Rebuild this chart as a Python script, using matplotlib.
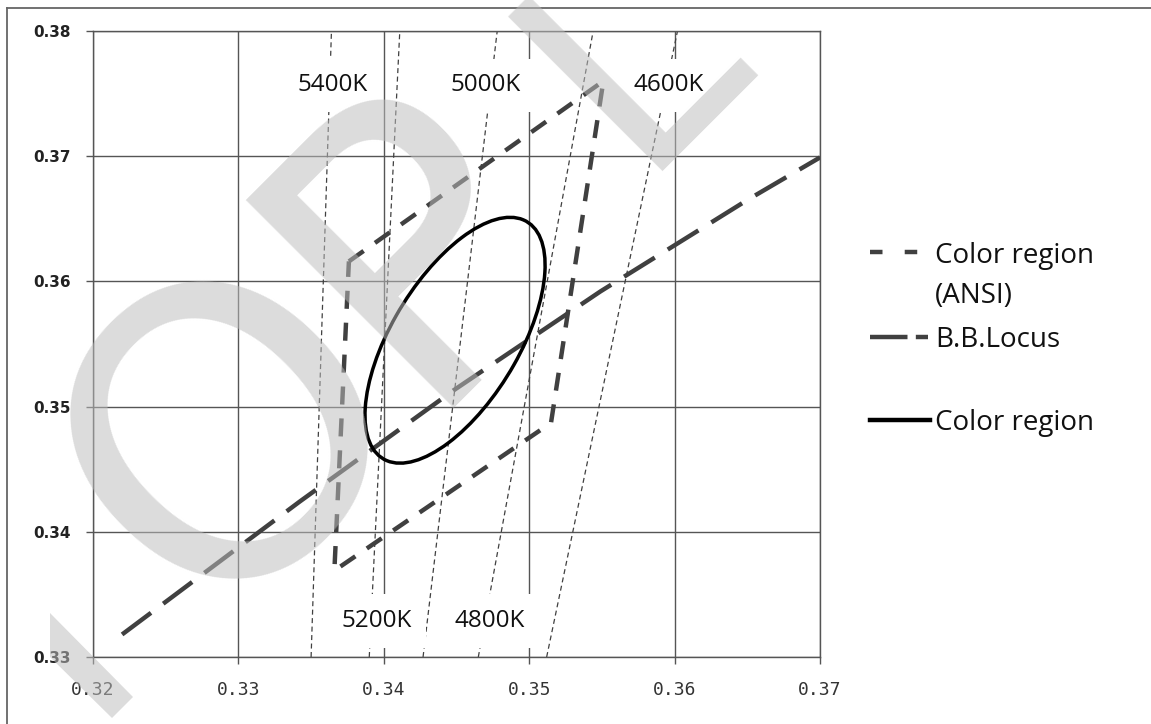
import numpy as np
import matplotlib
matplotlib.use("Agg")
import matplotlib.pyplot as plt
from matplotlib.patches import Ellipse, Polygon
from matplotlib.lines import Line2D

plt.rcParams["lines.scale_dashes"] = False

# axes
x_ticks = [0.32, 0.33, 0.34, 0.35, 0.36, 0.37]
y_ticks = [0.33, 0.34, 0.35, 0.36, 0.37, 0.38]

# CCT isotherms: x at y=0.33 and at y=0.38
iso_names = ["5400K", "5200K", "5000K", "4800K", "4600K"]
iso_y = [0.33, 0.38]
iso_x_bottom = [0.3350, 0.3390, 0.3427, 0.3465, 0.3512]
iso_x_top = [0.3364, 0.3411, 0.3478, 0.3544, 0.3602]
iso_label_x = [0.3365, 0.3395, 0.3470, 0.3473, 0.3596]
iso_label_y = [0.3752, 0.3324, 0.3752, 0.3324, 0.3752]

# ANSI quadrangle (5000K)
ansi_x = [0.3376, 0.3551, 0.3515, 0.3366, 0.3376]
ansi_y = [0.3616, 0.3760, 0.3487, 0.3369, 0.3616]

# black body locus
bb_x = [0.3220, 0.3342, 0.3448, 0.3549, 0.3650, 0.3700]
bb_y = [0.3318, 0.3424, 0.3513, 0.3592, 0.3665, 0.3699]

# colour region ellipse
ell_center = (0.3449, 0.3553)
ell_a = 0.0107
ell_b = 0.0045
ell_angle = 64.0

W, H = 1151, 724
fig = plt.figure(figsize=(W / 100, H / 100), dpi=100)
fig.patch.set_facecolor("white")
ax = fig.add_axes([93 / W, 1 - 657 / H, 727 / W, 626 / H])

grid_c = "#555555"
line_c = "#404040"

ax.set_xlim(x_ticks[0], x_ticks[-1])
ax.set_ylim(y_ticks[0], y_ticks[-1])
ax.set_xticks(x_ticks)
ax.set_yticks(y_ticks)
ax.set_xticklabels([f"{v:.2f}" for v in x_ticks], family="DejaVu Sans Mono",
                   fontsize=13, color="#333333")
ax.set_yticklabels([f"{v:.2f}" for v in y_ticks], family="DejaVu Sans",
                   fontweight="bold", fontsize=11, color="#222222")
ax.tick_params(axis="x", direction="out", length=5, width=1, color=grid_c, pad=12)
ax.tick_params(axis="y", direction="out", length=5, width=1, color=grid_c, pad=11)
ax.grid(True, color=grid_c, linewidth=1.0, zorder=0)
for s in ax.spines.values():
    s.set_color(grid_c)
    s.set_linewidth(1.0)

for xb, xt in zip(iso_x_bottom, iso_x_top):
    ax.plot([xb, xt], iso_y, color=line_c, linewidth=0.9, dashes=(3.6, 2.5), zorder=2)

for name, lx, ly in zip(iso_names, iso_label_x, iso_label_y):
    ax.text(lx, ly, name, ha="center", va="baseline", fontsize=17.5,
            family="Open Sans", color="#111111", zorder=3,
            bbox=dict(boxstyle="square,pad=0.6", fc="white", ec="none"))

ax.plot(ansi_x, ansi_y, color=line_c, linewidth=3.2, dashes=(13, 10), zorder=4)
ax.plot(bb_x, bb_y, color=line_c, linewidth=3.2, dashes=(26, 11), zorder=4)
ax.add_patch(Ellipse(ell_center, 2 * ell_a, 2 * ell_b, angle=ell_angle,
                     fill=False, edgecolor="black", linewidth=2.5, zorder=5))

# legend drawn by hand
def fx(px):
    return px / W

def fy(py):
    return 1 - py / H

fig.add_artist(Line2D([fx(870), fx(922)], [fy(252), fy(252)], color=line_c,
                      linewidth=3.2, dashes=(9, 16)))
fig.add_artist(Line2D([fx(870), fx(928)], [fy(337), fy(337)], color=line_c,
                      linewidth=3.2, dashes=(27, 6)))
fig.add_artist(Line2D([fx(870), fx(930)], [fy(420), fy(420)], color="black",
                      linewidth=3.2))
leg_kw = dict(family="Open Sans", fontsize=20, color="#111111", va="baseline", ha="left")
fig.text(fx(935), fy(263), "Color region", **leg_kw)
fig.text(fx(935), fy(303), "(ANSI)", **leg_kw)
fig.text(fx(935), fy(347), "B.B.Locus", **leg_kw)
fig.text(fx(935), fy(430), "Color region", **leg_kw)

# outer frame
fig.add_artist(Line2D([fx(7), 1], [fy(8), fy(8)], color="#666666", linewidth=1.3))
fig.add_artist(Line2D([fx(7), fx(7)], [fy(8), 0], color="#666666", linewidth=1.3))

# watermark, one letter at a time (pixel anchor on the baseline, size)
wm_c = (0.74, 0.74, 0.74)
for ch, px, py, size in [("O", 316, 518, 290), ("P", 500, 322, 290), ("L", 693, 112, 215)]:
    fig.text(fx(px), fy(py), ch, rotation=45, rotation_mode="anchor",
             ha="center", va="baseline", fontsize=size, family="DejaVu Sans",
             color=wm_c, alpha=0.53, zorder=10)
band = [(50, 613), (133, 697), (112, 718), (50, 657)]
fig.add_artist(Polygon([(fx(a), fy(b)) for a, b in band], closed=True,
                       facecolor=wm_c, edgecolor="none", alpha=0.53, zorder=10))

fig.savefig("out.png", dpi=100)
